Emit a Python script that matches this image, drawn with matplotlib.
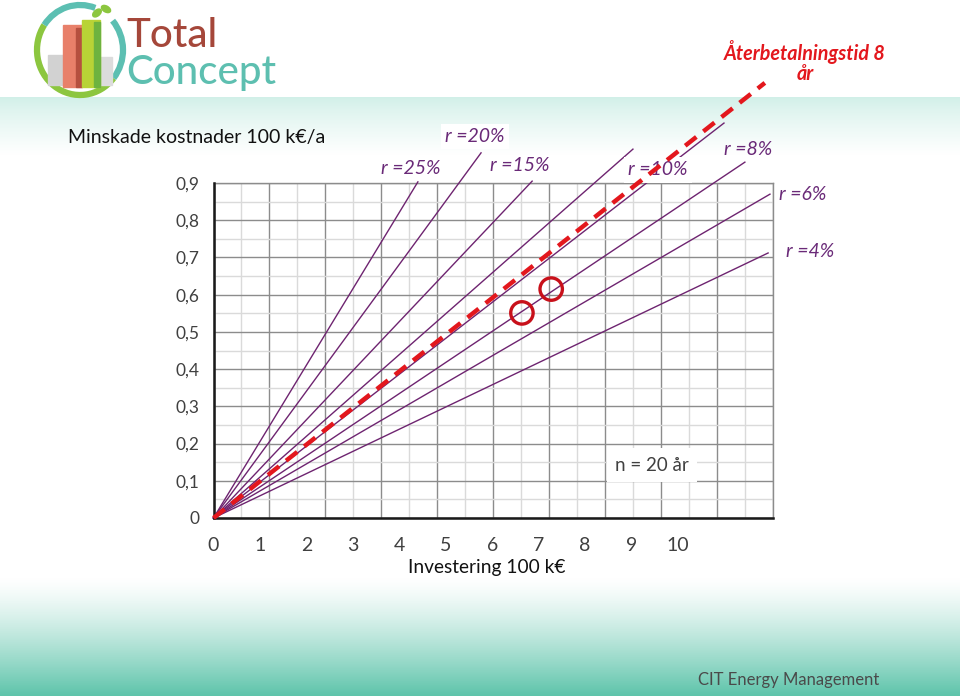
import numpy as np
import matplotlib.pyplot as plt
from matplotlib.patches import Arc, Rectangle, Ellipse

plt.rcParams['font.family'] = ['Lato', 'DejaVu Sans']

# lönsamhetslinjer, n = 20 år (x: investering 100 k€, y: minskade kostnader 100 k€/a)
rate_labels = ['r =25%', 'r =20%', 'r =15%', '', 'r =10%', 'r =8%', 'r =6%', 'r =4%']
line_end_x = [4.40, 5.76, 6.86, 9.03, 10.99, 11.44, 11.98, 11.94]
line_end_y = [0.903, 0.981, 0.905, 0.991, 1.061, 0.956, 0.870, 0.712]

# återbetalningstid 8 år (streckad)
payback_x = [0, 11.87]
payback_y = [0, 1.169]

# markerade objekt
obj_x = [6.64, 7.27]
obj_y = [0.551, 0.615]

x_ticks = list(range(11))
y_ticks = [0, 0.1, 0.2, 0.3, 0.4, 0.5, 0.6, 0.7, 0.8, 0.9]
y_ticklabels = ['0', '0,1', '0,2', '0,3', '0,4', '0,5', '0,6', '0,7', '0,8', '0,9']

purple = '#6e2470'
txt_purple = '#6a2a78'
red = '#e3171d'

W, H = 960, 696
fig = plt.figure(figsize=(W / 100, H / 100), dpi=100)

# bakgrund (bild) i pixelkoordinater
bg = fig.add_axes([0, 0, 1, 1], zorder=-2)
bg.set_xlim(0, W)
bg.set_ylim(H, 0)
bg.axis('off')

top = np.linspace(0, 1, 64)[:, None] ** 0.8
top_rgb = np.array([0.82, 0.94, 0.91]) * (1 - top[..., None]) + top[..., None]
bg.imshow(np.repeat(top_rgb, 2, axis=1), extent=(0, W, 155, 97), aspect='auto', zorder=0)
bot = np.linspace(0, 1, 64)[:, None] ** 1.3
bot_rgb = (1 - bot[..., None]) + np.array([0.37, 0.77, 0.67]) * bot[..., None]
bg.imshow(np.repeat(bot_rgb, 2, axis=1), extent=(0, W, H, 577), aspect='auto', zorder=0)

# logotyp (vinklar i data, y-axeln är vänd)
bg.add_patch(Arc((80, 50), 86, 90, theta1=40, theta2=215, color='#8cc63f', lw=4.5))
bg.add_patch(Arc((80, 50), 86, 90, theta1=215, theta2=290, color='#5cbfb2', lw=4.5))
bg.add_patch(Arc((80, 50), 86, 90, theta1=318, theta2=400, color='#5cbfb2', lw=4.5))
bg.add_patch(Rectangle((48, 55), 15, 30, color='#d2d2d2'))
bg.add_patch(Rectangle((100, 57), 12, 28, color='#dcdcdc'))
bg.add_patch(Rectangle((63, 25), 19, 62, color='#e8806a'))
bg.add_patch(Rectangle((76, 28), 6, 59, color='#b5503f'))
bg.add_patch(Rectangle((82, 20), 18, 67, color='#b8d336'))
bg.add_patch(Rectangle((94, 22), 6, 65, color='#6db33f'))
bg.add_patch(Ellipse((97, 13), 10, 6, angle=-40, color='#8cc63f'))
bg.add_patch(Ellipse((106, 9), 10, 6, angle=30, color='#8cc63f'))
bg.text(126, 47, 'Total', fontsize=29, color='#a5473a', fontweight='medium')
bg.text(126, 84, 'Concept', fontsize=29, color='#5dbfb0', fontweight='medium')

# rutnät
ax_l, ax_r, ax_t, ax_b = 213.5, 773, 183, 518
rect = [ax_l / W, 1 - ax_b / H, (ax_r - ax_l) / W, (ax_b - ax_t) / H]
gax = fig.add_axes(rect, zorder=-1)
gax.set_xlim(0, 10)
gax.set_ylim(0, 9)
gax.set_xticks(np.arange(0, 11))
gax.set_yticks(np.arange(0, 10))
gax.set_xticks(np.arange(0.5, 10, 1), minor=True)
gax.set_yticks(np.arange(0.5, 9, 1), minor=True)
gax.grid(which='major', color='#8c8c8c', lw=1)
gax.grid(which='minor', color='#dadada', lw=1)
gax.tick_params(which='both', length=0, labelbottom=False, labelleft=False)
for s in gax.spines.values():
    s.set_color('#8c8c8c')
    s.set_linewidth(1)

ax = fig.add_axes(rect, zorder=0)
ax.set_facecolor('none')
ax.set_xlim(0, (ax_r - ax_l) / 46.45)
ax.set_ylim(0, 0.9)
for s in ['top', 'right']:
    ax.spines[s].set_visible(False)
for s in ['left', 'bottom']:
    ax.spines[s].set_color('#1a1a1a')
    ax.spines[s].set_linewidth(1.8)

for ex, ey in zip(line_end_x, line_end_y):
    ax.plot([0, ex], [0, ey], color=purple, lw=1, clip_on=False, zorder=2)

label_pos = [(4.25, 0.940), (5.63, 1.024), (6.60, 0.948), None,
             (9.57, 0.935), (11.50, 0.991), (12.69, 0.870), (12.84, 0.715)]
boxed = ['r =20%', 'r =10%']
for lab, pos in zip(rate_labels, label_pos):
    if not lab:
        continue
    kw = {}
    if lab in boxed:
        kw['bbox'] = dict(facecolor='white', edgecolor='none', pad=3)
    ax.text(pos[0], pos[1], lab, fontsize=14, style='italic', color=txt_purple,
            ha='center', va='center', clip_on=False, zorder=3, **kw)

ax.plot(payback_x, payback_y, color=red, lw=3.2, dashes=(3.2, 2), clip_on=False, zorder=4)
ax.scatter(obj_x, obj_y, s=260, facecolors='none', edgecolors='#c8101a', linewidths=2.4,
           clip_on=False, zorder=5)

ax.set_xticks(x_ticks)
ax.set_xticklabels([str(v) for v in x_ticks])
ax.set_yticks(y_ticks)
ax.set_yticklabels(y_ticklabels)
ax.tick_params(axis='x', length=0, pad=14, labelsize=14, labelcolor='#404040')
ax.tick_params(axis='y', length=0, pad=10, labelsize=12.5, labelcolor='#404040')

ax.text(9.44, 0.142, 'n = 20 år', fontsize=13.5, color='#404040', ha='center', va='center',
        bbox=dict(facecolor='white', edgecolor='none', pad=6), zorder=3)

fig.text(68 / W, 1 - 137 / H, 'Minskade kostnader 100 k€/a', fontsize=14, color='#111111',
         ha='left', va='center')
fig.text(487 / W, 1 - 568 / H, 'Investering 100 k€', fontsize=13.8, color='#111111',
         ha='center', va='center')
fig.text(805 / W, 1 - 62 / H, 'Återbetalningstid 8\når', fontsize=14.2, color=red,
         fontweight='bold', style='italic', ha='center', va='center',
         multialignment='center', linespacing=0.95)
fig.text(789 / W, 1 - 680 / H, 'CIT Energy Management', fontsize=12, color='#4a4a4a',
         ha='center', va='center')

fig.savefig('out.png', dpi=100)
